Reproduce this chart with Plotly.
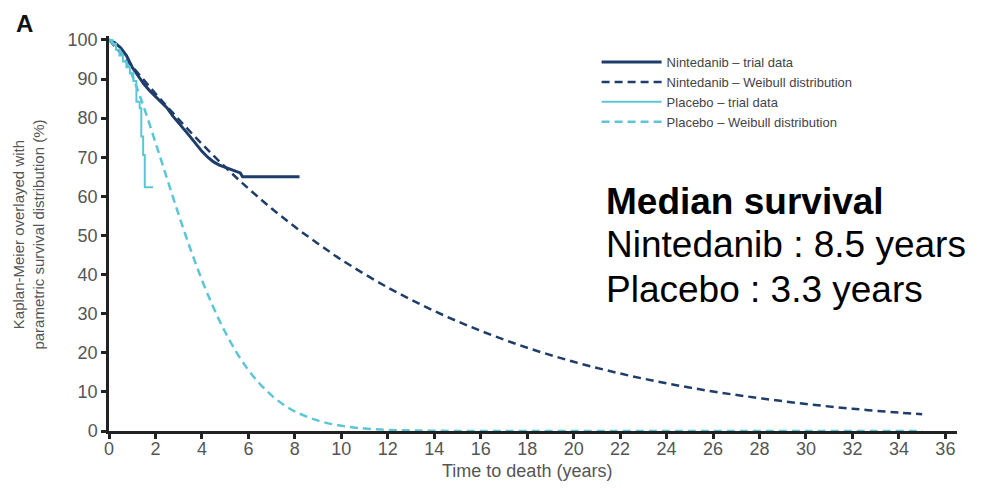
import plotly.graph_objects as go

# ---------------- data ----------------
nint_km_t = [0, 0.25, 0.5, 0.75, 1.0, 1.25, 1.5, 1.75, 2.0, 2.25, 2.5, 2.75, 3.0, 3.25, 3.5,
             3.75, 4.0, 4.25, 4.5, 4.75, 5.0, 5.25, 5.5, 5.65, 5.75, 8.2]
nint_km_s = [100, 99.3, 98.0, 96.0, 93.0, 90.8, 88.7, 87.0, 85.6, 84.0, 82.6, 80.5, 78.6, 77.0, 75.2,
             73.3, 71.5, 70.0, 68.8, 68.0, 67.5, 67.0, 66.5, 66.0, 65.0, 65.0]

nint_wb_t = [0, 0.5, 1, 2, 3, 4, 5, 6, 7, 8, 9, 10, 12, 14, 16, 18, 20, 22, 24, 26, 28, 30, 32, 34, 35]
nint_wb_s = [100, 96.7, 93.2, 86.3, 79.7, 73.4, 67.5, 62.0, 56.9, 52.2, 47.9, 43.8, 36.7, 30.7,
             25.6, 21.3, 17.7, 14.7, 12.2, 10.1, 8.4, 6.9, 5.7, 4.7, 4.3]

plac_km_t = [0, 0.15, 0.3, 0.45, 0.6, 0.75, 0.9, 1.05, 1.18, 1.32, 1.39, 1.47, 1.54, 1.9]
plac_km_s = [100, 99.0, 97.5, 96.0, 94.5, 93.0, 91.5, 89.5, 84.2, 82.5, 75.3, 70.6, 62.3, 62.3]

plac_wb_t = [0, 0.5, 1, 1.5, 2, 2.5, 3, 3.5, 4, 4.5, 5, 5.5, 6, 6.5, 7, 7.5, 8, 9, 10, 11, 12,
             13, 14, 16, 20, 25, 30, 35]
plac_wb_s = [100, 97.0, 90.8, 82.8, 73.8, 64.5, 55.3, 46.6, 38.6, 31.5, 25.3, 20.0, 15.6, 12.0,
             9.1, 6.8, 5.0, 2.65, 1.33, 0.64, 0.29, 0.13, 0.05, 0, 0, 0, 0, 0]

x_ticks = list(range(0, 37, 2))
y_ticks = list(range(0, 101, 10))

series_names = ["Nintedanib \u2013 trial data", "Nintedanib \u2013 Weibull distribution",
                "Placebo \u2013 trial data", "Placebo \u2013 Weibull distribution"]

median_lines = ["<b>Median survival</b>", "Nintedanib : 8.5 years", "Placebo : 3.3 years"]

# ---------------- styling ----------------
NAVY = "#1f3d6b"
CYAN = "#5cc6d6"
FONT = "Liberation Sans, Arial, sans-serif"

fig = go.Figure()
fig.add_trace(go.Scatter(x=nint_km_t, y=nint_km_s, mode="lines", name=series_names[0],
                         line=dict(color=NAVY, width=3)))
fig.add_trace(go.Scatter(x=nint_wb_t, y=nint_wb_s, mode="lines", name=series_names[1],
                         line=dict(color=NAVY, width=2.5, dash="8px,5px", shape="spline")))
fig.add_trace(go.Scatter(x=plac_km_t, y=plac_km_s, mode="lines", name=series_names[2],
                         line=dict(color=CYAN, width=2, shape="hv")))
fig.add_trace(go.Scatter(x=plac_wb_t, y=plac_wb_s, mode="lines", name=series_names[3],
                         line=dict(color=CYAN, width=2.5, dash="8px,5px", shape="spline")))

fig.update_layout(
    width=983, height=474,
    margin=dict(l=101, r=34, t=28, b=51),
    paper_bgcolor="white", plot_bgcolor="white",
    font=dict(family=FONT, color="#444"),
    showlegend=True,
    legend=dict(x=0.575, y=0.972, xanchor="left", yanchor="top",
                font=dict(size=13, color="#444", family=FONT),
                bgcolor="rgba(0,0,0,0)", tracegroupgap=0, itemwidth=60),
)
fig.update_xaxes(range=[0, 36.5], tickvals=x_ticks, ticktext=[str(v) for v in x_ticks],
                 showgrid=False, zeroline=False, showline=True, linecolor="#222", linewidth=2.5,
                 ticks="outside", ticklen=5, tickwidth=2.5, tickcolor="#222",
                 ticklabelstandoff=-5,
                 tickfont=dict(size=18, color="#555", family=FONT))
fig.update_yaxes(range=[0, 101], tickvals=y_ticks, ticktext=[str(v) for v in y_ticks],
                 showgrid=False, zeroline=False, showline=True, linecolor="#222", linewidth=2.5,
                 ticks="outside", ticklen=5, tickwidth=2.5, tickcolor="#222",
                 tickfont=dict(size=18, color="#555", family=FONT))

# axis titles as annotations for exact placement
fig.add_annotation(xref="paper", yref="paper", x=0.4929, y=-0.1, text="Time to death (years)",
                   showarrow=False, xanchor="center", yanchor="middle",
                   font=dict(size=18, color="#555", family=FONT))
fig.add_annotation(xref="paper", yref="paper", x=-0.0949, y=0.496,
                   text="Kaplan-Meier overlayed with<br>parametric survival distribution (%)",
                   showarrow=False, textangle=-90, xanchor="center", yanchor="middle",
                   font=dict(size=15, color="#555", family=FONT))
# panel letter
fig.add_annotation(xref="paper", yref="paper", x=-0.112, y=1.0709, text="<b>A</b>",
                   showarrow=False, xanchor="left", yanchor="top",
                   font=dict(size=24, color="#111", family=FONT))
# median survival text
for txt, yv in zip(median_lines, [58.6, 47.6, 36.1]):
    fig.add_annotation(x=21.3, y=yv, xref="x", yref="y", text=txt, showarrow=False,
                       xanchor="left", yanchor="middle",
                       font=dict(size=37, color="#000", family=FONT))

fig.write_html("out.html")
